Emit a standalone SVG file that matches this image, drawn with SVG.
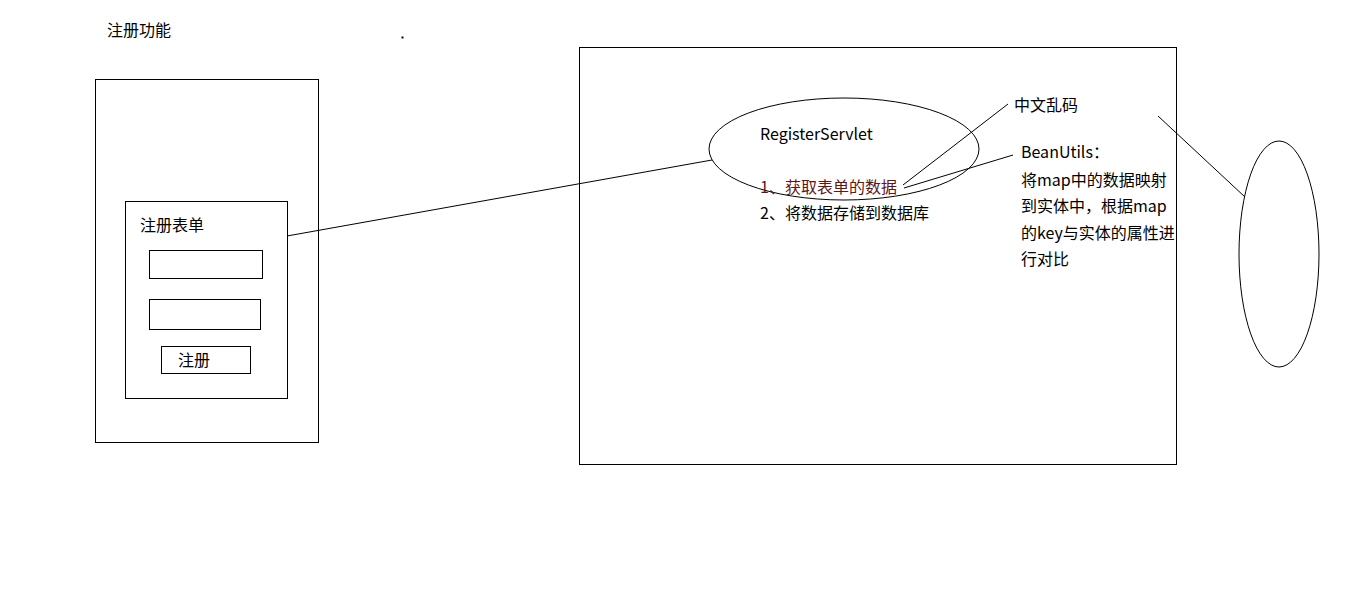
<svg xmlns="http://www.w3.org/2000/svg" width="1350" height="609" viewBox="0 0 1350 609">
<style>
.s{fill:none;stroke:#000;stroke-width:1}
.t{font-family:"Noto Sans CJK SC","Microsoft YaHei",sans-serif;font-size:16px;fill:#000}
.r{fill:#5e1616}
</style>
<rect width="1350" height="609" fill="#fff"/>
<g id="title"><text class="t" x="107" y="36">注册功能</text></g>
<g id="dot"><rect x="401.5" y="36.5" width="2" height="2" fill="#000"/></g>
<g id="page">
<rect class="s" x="95.5" y="79.5" width="223" height="363"/>
</g>
<g id="form">
<rect class="s" x="125.5" y="201.5" width="162" height="197"/>
<text class="t" x="140" y="231">注册表单</text>
<rect class="s" x="149.5" y="250.5" width="113" height="28"/>
<rect class="s" x="149.5" y="299.5" width="111" height="30"/>
<rect class="s" x="161.5" y="346.5" width="89" height="27"/>
<text class="t" x="178" y="366">注册</text>
</g>
<g id="server">
<rect class="s" x="579.5" y="47.5" width="597" height="417"/>
</g>
<g id="servlet">
<ellipse class="s" cx="844" cy="149" rx="135" ry="51"/>
<text class="t" x="760" y="140">RegisterServlet</text>
<text class="t r" x="760" y="193">1、获取表单的数据</text>
<text class="t" x="760" y="219">2、将数据存储到数据库</text>
</g>
<g id="note-encoding"><text class="t" x="1014" y="111">中文乱码</text></g>
<g id="note-beanutils">
<text class="t" x="1021" y="158">BeanUtils：</text>
<text class="t" x="1021" y="186">将map中的数据映射</text>
<text class="t" x="1021" y="212">到实体中，根据map</text>
<text class="t" x="1021" y="239">的key与实体的属性进</text>
<text class="t" x="1021" y="265">行对比</text>
</g>
<g id="right-ellipse"><ellipse class="s" cx="1279" cy="254" rx="40" ry="113"/></g>
<g id="connectors">
<line class="s" x1="287" y1="236" x2="712" y2="160"/>
<line class="s" x1="903" y1="185" x2="1008" y2="104"/>
<line class="s" x1="904" y1="188" x2="1013" y2="155"/>
<line class="s" x1="1158" y1="116" x2="1245" y2="197"/>
</g>
</svg>
